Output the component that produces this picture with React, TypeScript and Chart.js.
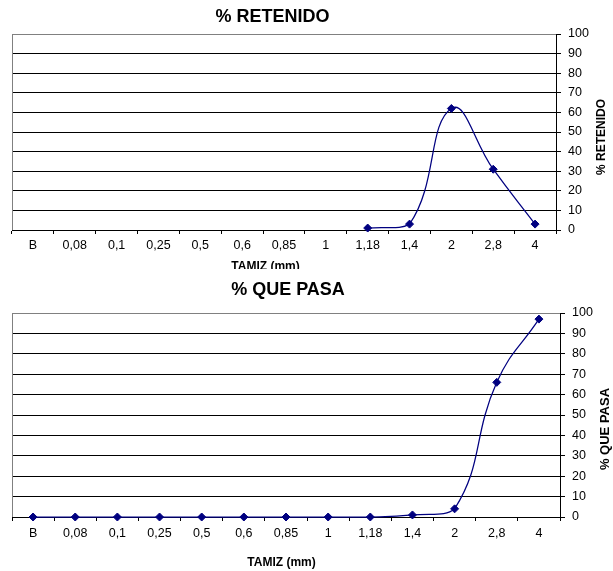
import React, { useEffect, useRef } from 'react';
import { Chart, registerables } from 'chart.js';

Chart.register(...registerables);

// ---- data ----
const categories = ['B', '0,08', '0,1', '0,25', '0,5', '0,6', '0,85', '1', '1,18', '1,4', '2', '2,8', '4'];
const retenido: (number | null)[] = [null, null, null, null, null, null, null, null, 1, 3, 62, 31, 3];
const quePasa: number[] = [0, 0, 0, 0, 0, 0, 0, 0, 0, 1, 4, 66, 97];
const yMin = 0;
const yMax = 100;
const yStep = 10;

const FONT = '"Liberation Sans", Arial, Helvetica, sans-serif';
const NAVY = '#000080';

type TextItem = { text: string; x: number; y: number; size: number; rotate?: boolean };

const textsPlugin = {
  id: 'texts',
  beforeDatasetsDraw(chart: any) {
    const { left, top, bottom } = chart.chartArea;
    const ctx = chart.ctx;
    ctx.save();
    ctx.strokeStyle = '#808080';
    ctx.lineWidth = 1;
    ctx.beginPath();
    ctx.moveTo(Math.round(left) + 0.5, top);
    ctx.lineTo(Math.round(left) + 0.5, bottom);
    ctx.stroke();
    ctx.restore();
  },
  afterDraw(chart: any, _args: any, opts: any) {
    const ctx = chart.ctx;
    ctx.save();
    ctx.fillStyle = '#000';
    ctx.textAlign = 'center';
    ctx.textBaseline = 'middle';
    for (const t of (opts.items || []) as TextItem[]) {
      ctx.save();
      ctx.font = `bold ${t.size}px ${FONT}`;
      ctx.translate(t.x, t.y);
      if (t.rotate) ctx.rotate(-Math.PI / 2);
      ctx.fillText(t.text, 0, 0);
      ctx.restore();
    }
    ctx.restore();
  },
};

type Spec = {
  values: (number | null)[];
  width: number;
  height: number;
  padTop: number;
  yWidth: number;
  xHeight: number;
  xLabelPad: number;
  items: TextItem[];
};

function LineChart({ spec }: { spec: Spec }) {
  const ref = useRef<HTMLCanvasElement | null>(null);
  useEffect(() => {
    if (!ref.current) return;
    const chart = new Chart(ref.current, {
      type: 'line',
      data: {
        labels: categories,
        datasets: [
          {
            data: spec.values,
            borderColor: NAVY,
            backgroundColor: NAVY,
            borderWidth: 1.25,
            tension: 0.45,
            fill: false,
            spanGaps: false,
            clip: false as any,
            pointStyle: 'rectRot',
            pointRadius: 4,
            pointBorderWidth: 1,
            pointBackgroundColor: NAVY,
            pointBorderColor: NAVY,
          },
        ],
      },
      options: {
        animation: false,
        responsive: false,
        maintainAspectRatio: false,
        events: [],
        layout: { padding: { left: 12, right: 0, top: spec.padTop, bottom: 0 } },
        plugins: {
          legend: { display: false },
          title: { display: false },
          tooltip: { enabled: false },
          texts: { items: spec.items },
        } as any,
        scales: {
          x: {
            type: 'category',
            offset: true,
            grid: {
              offset: true,
              drawOnChartArea: false,
              drawTicks: true,
              tickLength: 4,
              tickColor: '#000',
            },
            border: { display: true, color: '#000', width: 1 },
            ticks: {
              font: { family: FONT, size: 12.5 },
              color: '#000',
              padding: spec.xLabelPad,
              maxRotation: 0,
              autoSkip: false,
            },
            afterFit: (s: any) => {
              s.height = spec.xHeight;
            },
          },
          y: {
            position: 'right',
            min: yMin,
            max: yMax,
            ticks: {
              stepSize: yStep,
              font: { family: FONT, size: 12.5 },
              color: '#000',
              padding: 7,
            },
            grid: {
              color: (c: any) => (c.tick && c.tick.value === yMax ? '#808080' : '#000'),
              tickColor: '#000',
              tickLength: 5,
              drawTicks: true,
              lineWidth: 1,
            },
            border: { display: true, color: '#000', width: 1 },
            afterFit: (s: any) => {
              s.width = spec.yWidth;
            },
          },
        },
      },
      plugins: [textsPlugin],
    } as any);
    return () => chart.destroy();
  }, [spec]);
  return (
    <canvas
      ref={ref}
      width={spec.width}
      height={spec.height}
      style={{ width: spec.width, height: spec.height, display: 'block' }}
    />
  );
}

const spec1: Spec = {
  values: retenido,
  width: 613,
  height: 269,
  padTop: 34,
  yWidth: 57,
  xHeight: 39,
  xLabelPad: 4,
  items: [
    { text: '% RETENIDO', x: 272.5, y: 17, size: 18 },
    { text: 'TAMIZ (mm)', x: 265.5, y: 266.5, size: 12 },
    { text: '% RETENIDO', x: 602, y: 137, size: 12, rotate: true },
  ],
};

const spec2: Spec = {
  values: quePasa,
  width: 613,
  height: 293,
  padTop: 35,
  yWidth: 53,
  xHeight: 54,
  xLabelPad: 5,
  items: [
    { text: '% QUE PASA', x: 288, y: 12.5, size: 18 },
    { text: 'TAMIZ (mm)', x: 281.5, y: 284.7, size: 12 },
    { text: '% QUE PASA', x: 605, y: 151, size: 13, rotate: true },
  ],
};

export default function App() {
  return (
    <div style={{ position: 'absolute', left: 0, top: 0, width: 613, height: 571, background: '#fff' }}>
      <div style={{ position: 'absolute', left: 0, top: 0 }}>
        <LineChart spec={spec1} />
      </div>
      <div style={{ position: 'absolute', left: 0, top: 278 }}>
        <LineChart spec={spec2} />
      </div>
    </div>
  );
}
